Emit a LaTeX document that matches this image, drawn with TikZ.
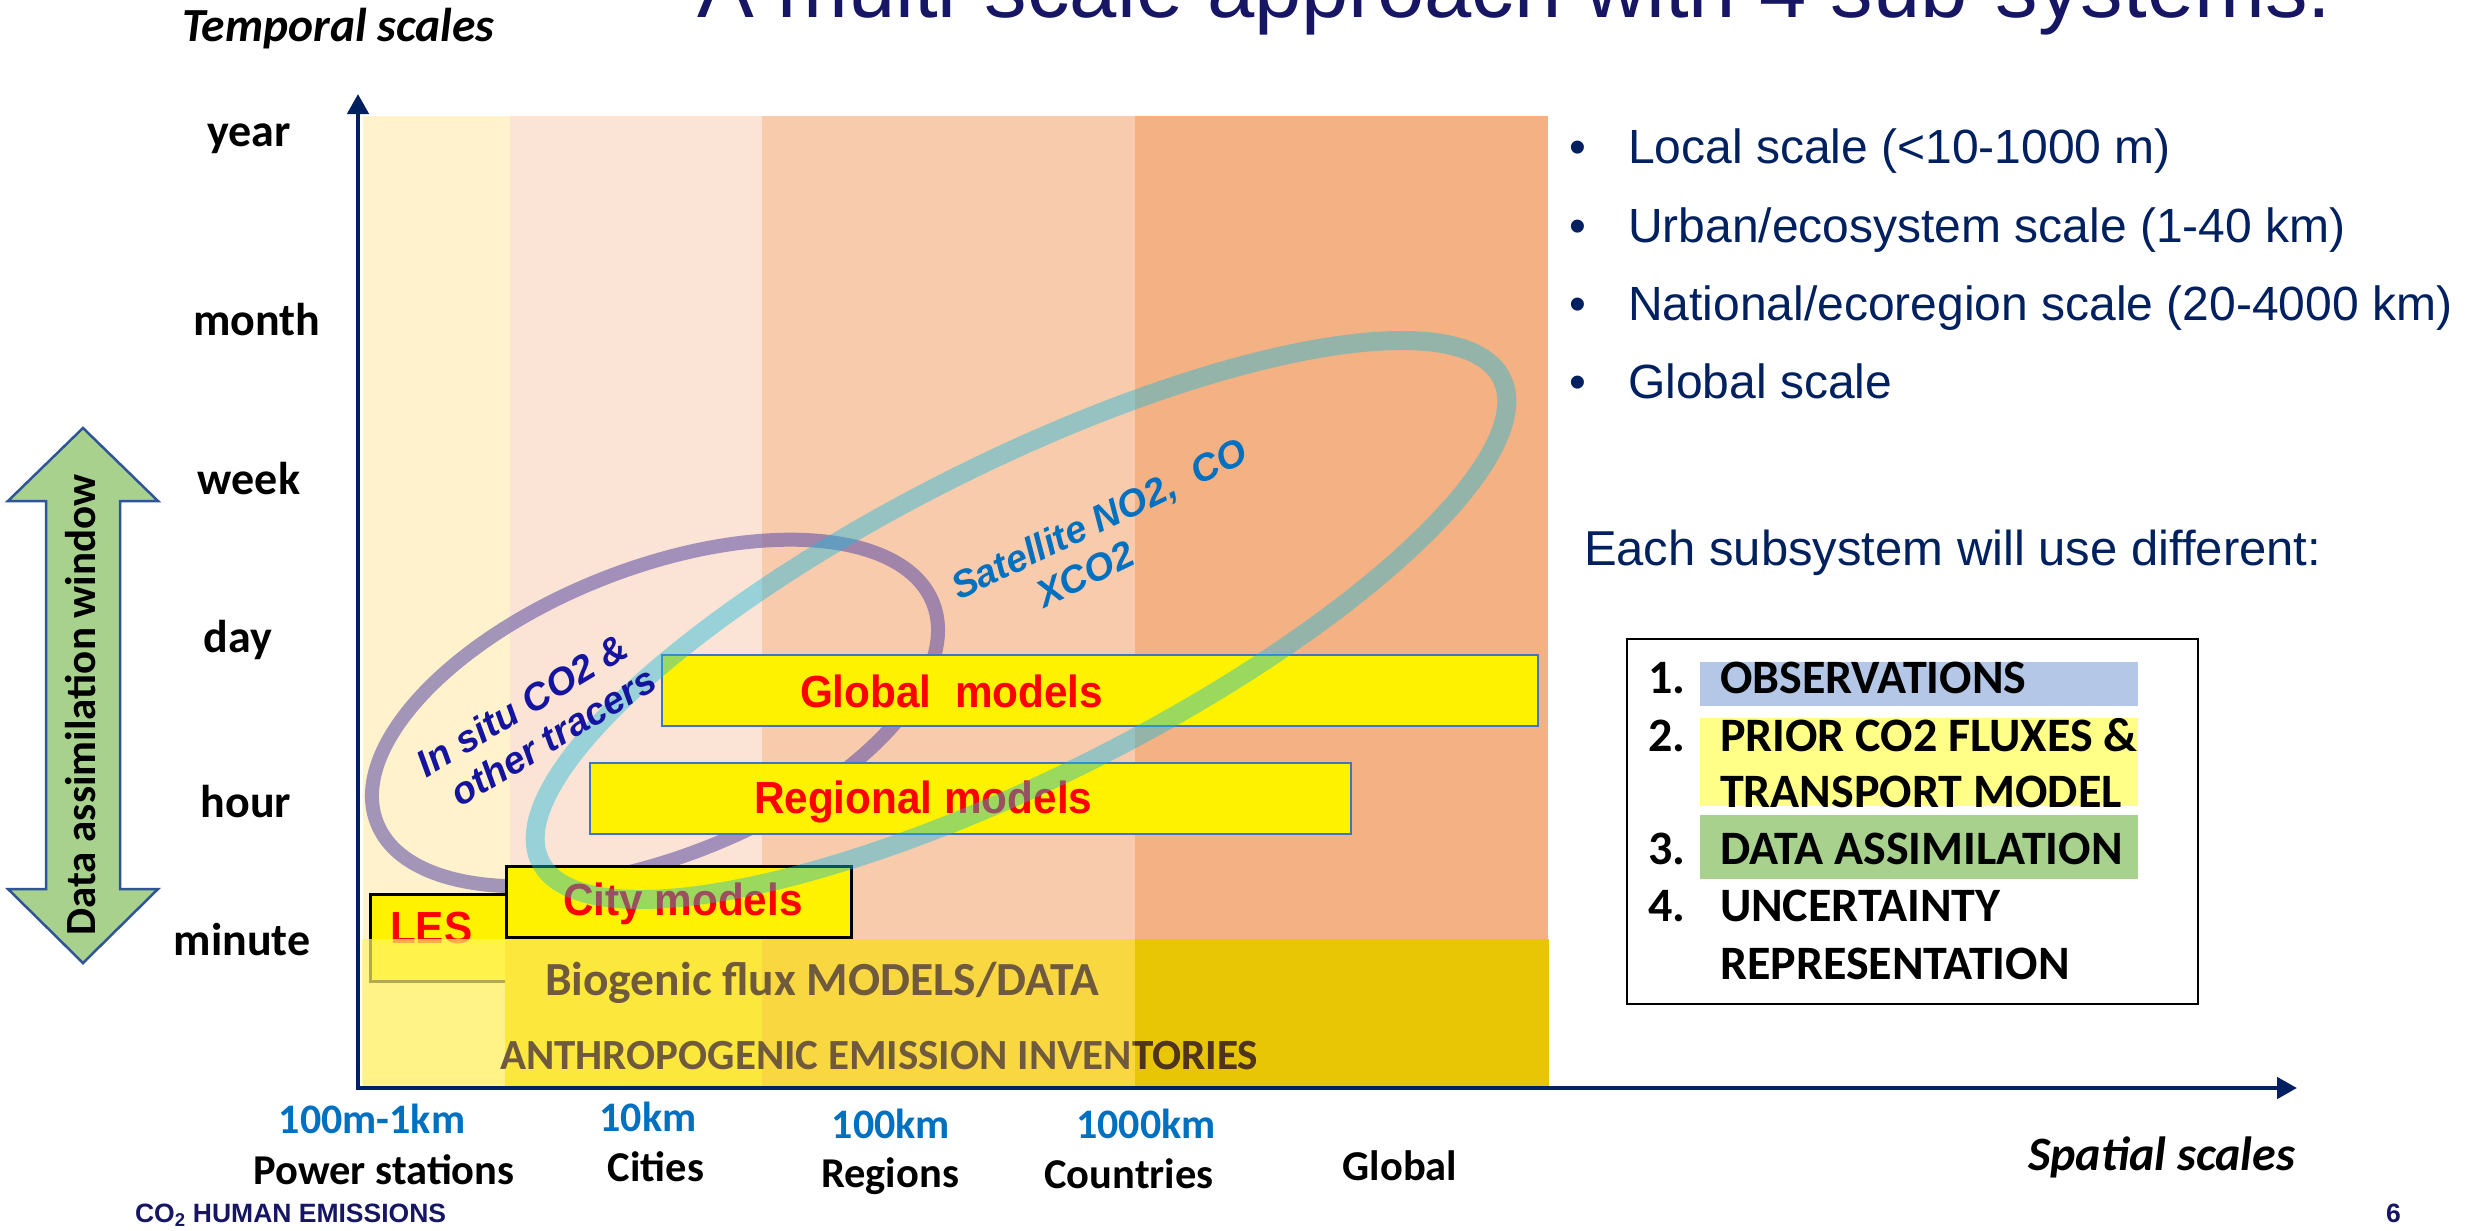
\documentclass[tikz,border=0pt]{standalone}
\usepackage{fontspec}
\setmainfont{Liberation Sans}
\newfontfamily\calib{Carlito}
\usetikzlibrary{arrows.meta}
\definecolor{navy}{RGB}{0,32,96}
\definecolor{titleblue}{RGB}{22,22,100}
\definecolor{colA}{RGB}{255,242,204}
\definecolor{colB}{RGB}{251,228,213}
\definecolor{colC}{RGB}{248,203,173}
\definecolor{colD}{RGB}{244,177,131}
\definecolor{bandA}{RGB}{255,243,107}
\definecolor{bandB}{RGB}{252,232,60}
\definecolor{bandC}{RGB}{249,215,64}
\definecolor{bandD}{RGB}{233,198,5}
\definecolor{bandtext}{RGB}{112,90,62}
\definecolor{banddark}{RGB}{80,52,26}
\definecolor{modelborder}{RGB}{68,114,196}
\definecolor{obsblue}{RGB}{180,199,231}
\definecolor{prioryellow}{RGB}{255,255,136}
\definecolor{dagreen}{RGB}{169,209,142}
\definecolor{arrowedge}{RGB}{47,85,151}
\definecolor{scaleblue}{RGB}{0,112,192}
\definecolor{insitublue}{RGB}{20,20,160}
\definecolor{purpring}{RGB}{98,82,168}
\definecolor{cyanring}{RGB}{23,186,220}
\begin{document}
\begin{tikzpicture}[x=1pt,y=-1pt,
  every node/.style={inner sep=0pt, outer sep=0pt},
  tick/.style={font=\calib\bfseries\fontsize{46}{55}\selectfont, anchor=base},
  scalelbl/.style={font=\calib\bfseries\fontsize{42}{50}\selectfont, text=scaleblue, anchor=base},
  placelbl/.style={font=\calib\bfseries\fontsize{42.5}{50}\selectfont, anchor=base},
  modelbox/.style={draw=modelborder, line width=2.5pt, fill=yellow},
  citybox/.style={draw=black, line width=3pt, fill=yellow},
  modeltext/.style={font=\bfseries\fontsize{45}{54}\selectfont, text=red, anchor=base west},
  bullettext/.style={font=\fontsize{48}{57}\selectfont, text=navy, anchor=base west},
  listtext/.style={font=\calib\bfseries\fontsize{48}{57}\selectfont, anchor=base west},
  bandtxt/.style={font=\calib\bfseries\fontsize{47.5}{56}\selectfont, text=bandtext, anchor=base west},
  ringtext/.style={font=\bfseries\itshape\fontsize{38}{44}\selectfont},
  axis/.style={draw=navy, line width=4.5pt, -{Triangle[length=20pt,width=21pt]}}
]
\useasboundingbox (0,0) rectangle (2484,1231);
\fill[white] (0,0) rectangle (2484,1231);

% title
\node[anchor=base west, font=\fontsize{85}{98}\selectfont, text=titleblue] (title) at (697,18) {A multi-scale approach with 4 sub-systems:};

% background columns
\fill[colA] (363,116) rectangle (510,1087);
\fill[colB] (510,116) rectangle (762,1087);
\fill[colC] (762,116) rectangle (1135,1087);
\fill[colD] (1135,116) rectangle (1548,1087);

% purple ellipse (behind boxes)
\draw[purpring, draw opacity=0.58, line width=14pt, rotate around={21.6:(655,713)}] (655,713) ellipse [x radius=299, y radius=144];

% model boxes
\node[modelbox, minimum width=876pt, minimum height=71pt, anchor=north west] (globalbox) at (662,655) {};
\node[modelbox, minimum width=761pt, minimum height=71pt, anchor=north west] (regbox) at (590,763) {};
\node[citybox, minimum width=345pt, minimum height=71pt, anchor=north west] (citybox) at (506,866) {};
\node[citybox, minimum width=136pt, minimum height=87pt, anchor=north west] (lesbox) at (370,894) {};
\node[modeltext] (globaltxt) at (800,707) {\scalebox{0.94}[1]{Global\ \ models}};
\node[modeltext] (regtxt) at (754,813) {\scalebox{0.94}[1]{Regional models}};
\node[modeltext] (citytxt) at (563,915) {\scalebox{0.94}[1]{City models}};
\node[modeltext] (lestxt) at (390,943) {\scalebox{0.94}[1]{LES}};

% cyan ellipse (on top of boxes)
\draw[cyanring, draw opacity=0.43, line width=19pt, rotate around={26.7:(1021,620)}] (1021,620) ellipse [x radius=538, y radius=157];

% ring labels
\node[ringtext, text=insitublue, rotate=31] (insitu1) at (522,705) {In situ CO2 \&};
\node[ringtext, text=insitublue, rotate=31] (insitu2) at (553,736) {other tracers};
\node[ringtext, text=scaleblue, rotate=25.6] (sat1) at (1100,521) {Satellite NO2,\ \ CO};
\node[ringtext, text=scaleblue, rotate=25.6] (sat2) at (1085,574) {XCO2};

% bottom band
\fill[bandA, fill opacity=0.7] (362,939) rectangle (505,1086);
\fill[bandB] (505,939) rectangle (762,1086);
\fill[bandC] (762,939) rectangle (1135,1086);
\fill[bandD] (1135,939) rectangle (1549,1086);
\node[bandtxt] (biogenic) at (545,995) {Biogenic flux MODELS/DATA};
\node[bandtxt, font=\calib\bfseries\fontsize{43}{52}\selectfont] (anthro) at (500,1069) {ANTHROPOGENIC EMISSION INVENTORIES};
\begin{scope}
  \clip (1135,1020) rectangle (1549,1086);
  \node[bandtxt, text=banddark, font=\calib\bfseries\fontsize{43}{52}\selectfont] (anthrodark) at (500,1069) {ANTHROPOGENIC EMISSION INVENTORIES};
\end{scope}

% axes
\coordinate (origin) at (358,1088);
\coordinate (ytop) at (358,94);
\coordinate (xend) at (2297,1088);
\draw[axis] (358,1090) -- (ytop);
\draw[axis] (356,1088) -- (xend);

% axis titles
\node[anchor=base west, font=\calib\bfseries\itshape\fontsize{47.5}{56}\selectfont] (tscales) at (182,42) {Temporal scales};
\node[anchor=base west, font=\calib\bfseries\itshape\fontsize{48}{56}\selectfont] (sscales) at (2028,1170) {Spatial scales};

% temporal ticks
\node[tick] (year) at (249,146) {year};
\node[tick] (month) at (257,335) {month};
\node[tick] (week) at (249,494) {week};
\node[tick] (day) at (238,652) {day};
\node[tick] (hour) at (246,817) {hour};
\node[tick] (minute) at (242,955) {minute};

% spatial ticks
\node[scalelbl] (s1) at (372,1133) {100m-1km};
\node[scalelbl] (s2) at (648,1131) {10km};
\node[scalelbl] (s3) at (891,1138) {100km};
\node[scalelbl] (s4) at (1146,1138) {1000km};
\node[placelbl] (p1) at (384,1184) {Power stations};
\node[placelbl] (p2) at (656,1181) {Cities};
\node[placelbl] (p3) at (890,1187) {Regions};
\node[placelbl] (p4) at (1129,1188) {Countries};
\node[placelbl] (p5) at (1400,1180) {Global};

% data assimilation arrow
\draw[fill=dagreen, draw=arrowedge, line width=2.5pt, line join=miter]
  (83,428) -- (158,501) -- (120,501) -- (120,889) -- (158,889) -- (83,963)
  -- (8,889) -- (46,889) -- (46,501) -- (8,501) -- cycle;
\node[rotate=90, font=\calib\bfseries\fontsize{43}{52}\selectfont] (daw) at (81,705) {Data assimilation window};

% bullets
\foreach \yy/\tt/\nm in {163/{Local scale (<10-1000 m)}/b1, 242/{Urban/ecosystem scale (1-40 km)}/b2, 320/{National/ecoregion scale (20-4000 km)}/b3, 398/{Global scale}/b4}{
  \node[bullettext] (\nm) at (1628,\yy) {\tt};
  \node[bullettext, anchor=base] (\nm dot) at (1578,\yy) {•};
}
\node[bullettext, font=\fontsize{49}{58}\selectfont] (each) at (1584,565) {Each subsystem will use different:};

% numbered box
\node[draw=black, line width=2.5pt, minimum width=571pt, minimum height=365pt, anchor=north west] (listbox) at (1627,639) {};
\fill[obsblue] (1700,662) rectangle (2138,706);
\fill[prioryellow] (1700,718) rectangle (2138,806);
\fill[dagreen] (1700,815) rectangle (2138,879);
\node[listtext] (n1) at (1648,693) {1.};
\node[listtext] (n2) at (1648,751) {2.};
\node[listtext] (n3) at (1648,864) {3.};
\node[listtext] (n4) at (1648,921) {4.};
\node[listtext] (l1) at (1720,693) {OBSERVATIONS};
\node[listtext] (l2) at (1720,751) {PRIOR CO2 FLUXES \&};
\node[listtext] (l2b) at (1720,807) {TRANSPORT MODEL};
\node[listtext] (l3) at (1720,864) {DATA ASSIMILATION};
\node[listtext] (l4) at (1720,921) {UNCERTAINTY};
\node[listtext] (l4b) at (1720,979) {REPRESENTATION};

% footer
\node[anchor=base west, font=\bfseries\fontsize{26.5}{31}\selectfont, text=titleblue] (footer) at (135,1222) {CO\textsubscript{2} HUMAN EMISSIONS};
\node[anchor=base west, font=\bfseries\fontsize{26.5}{31}\selectfont, text=titleblue] (pagenum) at (2386,1222) {6};
\end{tikzpicture}
\end{document}
